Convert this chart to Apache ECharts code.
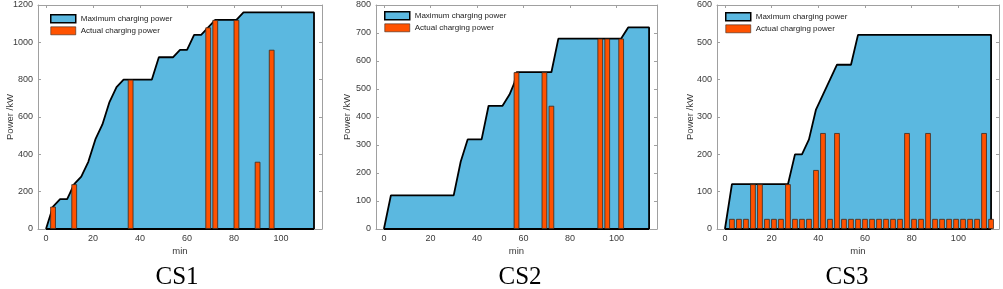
<!DOCTYPE html>
<html>
<head>
<meta charset="utf-8">
<script src="https://cdn.jsdelivr.net/npm/echarts@6/dist/echarts.min.js"></script>
<style>
  html, body { margin: 0; padding: 0; background: #fff; }
  #chart { width: 1003px; height: 289px; }
</style>
</head>
<body>
<div id="chart"></div>
<script>
// charging station data (min / kW)
const stationNames = ['CS1', 'CS2', 'CS3']
const xTicks = [0, 20, 40, 60, 80, 100]

const maxMinCS1 = [0, 3, 6, 9, 12, 15, 18, 21, 24, 27, 30, 33, 45, 48, 54, 57, 60, 63, 66, 69, 72, 81, 84, 114, 114]
const maxPowCS1 = [0, 120, 160, 160, 240, 280, 360, 480, 560, 680, 760, 800, 800, 920, 920, 960, 960, 1040, 1040, 1080, 1120, 1120, 1160, 1160, 0]
const barMinCS1 = [3, 12, 36, 69, 72, 81, 90, 96]
const barPowCS1 = [120, 240, 800, 1080, 1120, 1120, 360, 960]

const maxMinCS2 = [0, 3, 30, 33, 36, 42, 45, 51, 54, 56, 57, 72, 75, 102, 105, 114, 114]
const maxPowCS2 = [0, 120, 120, 240, 320, 320, 440, 440, 480, 520, 560, 560, 680, 680, 720, 720, 0]
const barMinCS2 = [57, 69, 72, 93, 96, 102]
const barPowCS2 = [560, 560, 440, 680, 680, 680]

const maxMinCS3 = [0, 3, 27, 30, 33, 36, 39, 42, 45, 48, 54, 57, 114, 114]
const maxPowCS3 = [0, 120, 120, 200, 200, 240, 320, 360, 400, 440, 440, 520, 520, 0]
const barMinCS3 = [3, 6, 9, 12, 15, 18, 21, 24, 27, 30, 33, 36, 39, 42, 45, 48, 51, 54, 57,
  60, 63, 66, 69, 72, 75, 78, 81, 84, 87, 90, 93, 96, 99, 102, 105, 108, 111, 114]
const barPowCS3 = [27, 27, 27, 120, 120, 27, 27, 27, 120, 27, 27, 27, 158, 257, 27, 257, 27, 27, 27,
  27, 27, 27, 27, 27, 27, 257, 27, 27, 257, 27, 27, 27, 27, 27, 27, 27, 257, 27]

const yMaxes = [1200, 800, 600]
const ySteps = [200, 100, 100]

const stations = [
  { maxMin: maxMinCS1, maxPow: maxPowCS1, barMin: barMinCS1, barPow: barPowCS1 },
  { maxMin: maxMinCS2, maxPow: maxPowCS2, barMin: barMinCS2, barPow: barPowCS2 },
  { maxMin: maxMinCS3, maxPow: maxPowCS3, barMin: barMinCS3, barPow: barPowCS3 },
]

const MAX_NAME = 'Maximum charging power'
const ACT_NAME = 'Actual charging power'
const blue = '#5bb8e0'
const orange = '#ff5200'
const axisGray = '#a0a0a0'
const labelColor = '#3a3a3a'
const X_MIN = -3.4
const X_MAX = 117.4
const BAR_SPAN = 2.4 // minutes

const grids = [
  { left: 38, top: 5, width: 284, height: 224 },
  { left: 376, top: 5, width: 281, height: 224 },
  { left: 717, top: 5, width: 282, height: 224 },
]
const legendPos = [
  { left: 50, top: 14 },
  { left: 384, top: 11 },
  { left: 725, top: 12 },
]
const titleX = [177, 520, 847]
const yNameGap = [23, 24, 22]

const tickFont = { fontFamily: 'Liberation Sans', fontSize: 9, color: labelColor }

const xAxis = []
const yAxis = []
const series = []
const legend = []
const title = []

stations.forEach((st, i) => {
  // bottom + top x axes make the box
  xAxis.push({
    type: 'value', gridIndex: i, min: X_MIN, max: X_MAX,
    name: 'min', nameLocation: 'middle', nameGap: 17, nameMoveOverlap: false,
    nameTextStyle: { fontFamily: 'Liberation Sans', fontSize: 9.5, color: labelColor },
    axisLine: { show: true, onZero: false, lineStyle: { color: axisGray, width: 1 } },
    axisTick: { show: true, inside: true, length: 3, customValues: xTicks, lineStyle: { color: axisGray } },
    axisLabel: { ...tickFont, margin: 5, customValues: xTicks, formatter: (v) => String(v) },
    splitLine: { show: false },
  })
  xAxis.push({
    type: 'value', gridIndex: i, min: X_MIN, max: X_MAX, position: 'top',
    axisLine: { show: true, onZero: false, lineStyle: { color: axisGray, width: 1 } },
    axisTick: { show: true, inside: true, length: 3, customValues: xTicks, lineStyle: { color: axisGray } },
    axisLabel: { show: false },
    splitLine: { show: false },
  })
  yAxis.push({
    type: 'value', gridIndex: i, min: 0, max: yMaxes[i], interval: ySteps[i],
    name: 'Power /kW', nameLocation: 'middle', nameGap: yNameGap[i], nameMoveOverlap: false,
    nameTextStyle: { fontFamily: 'Liberation Sans', fontSize: 9.5, color: labelColor },
    axisLine: { show: true, onZero: false, lineStyle: { color: axisGray, width: 1 } },
    axisTick: { show: true, inside: true, length: 3, lineStyle: { color: axisGray } },
    axisLabel: { ...tickFont, margin: 5, formatter: (v) => String(v) },
    splitLine: { show: false },
  })
  yAxis.push({
    type: 'value', gridIndex: i, min: 0, max: yMaxes[i], interval: ySteps[i], position: 'right',
    axisLine: { show: true, onZero: false, lineStyle: { color: axisGray, width: 1 } },
    axisTick: { show: true, inside: true, length: 3, lineStyle: { color: axisGray } },
    axisLabel: { show: false },
    splitLine: { show: false },
  })

  const xi = i * 2
  const yi = i * 2
  const curve = st.maxMin.map((m, k) => [m, st.maxPow[k]])
  const first = st.maxMin[0]
  const last = st.maxMin[st.maxMin.length - 1]

  series.push({
    name: MAX_NAME, type: 'line', xAxisIndex: xi, yAxisIndex: yi,
    data: curve, symbol: 'none', clip: false, z: 2,
    itemStyle: { color: blue, borderColor: '#000', borderWidth: 1.5 },
    lineStyle: { color: '#000', width: 1.8 },
    areaStyle: { color: blue, opacity: 1 },
  })
  // bottom edge of the max-power patch
  series.push({
    name: 'edge', type: 'line', xAxisIndex: xi, yAxisIndex: yi,
    data: [[first, 0], [last, 0]], symbol: 'none', clip: false, z: 2,
    lineStyle: { color: '#000', width: 1.8 },
  })
  const bw = BAR_SPAN * grids[i].width / (X_MAX - X_MIN)
  series.push({
    name: ACT_NAME, type: 'bar', xAxisIndex: xi, yAxisIndex: yi,
    data: st.barMin.map((m, k) => [m, st.barPow[k]]),
    barWidth: bw, z: 3,
    itemStyle: { color: orange, borderColor: '#3a2a20', borderWidth: 0.8 },
  })

  legend.push({
    ...legendPos[i], orient: 'vertical', padding: 0, itemGap: 3,
    itemWidth: 25, itemHeight: 8, selectedMode: false,
    textStyle: { fontFamily: 'Liberation Sans', fontSize: 8, color: '#222', lineHeight: 8 },
    data: [
      { name: MAX_NAME, icon: 'rect', itemStyle: { color: blue, borderColor: '#000', borderWidth: 1.5 } },
      { name: ACT_NAME, icon: 'rect', itemStyle: { color: orange, borderColor: '#3a2a20', borderWidth: 0.6 } },
    ],
  })

  title.push({
    text: stationNames[i], left: titleX[i], top: 265, textAlign: 'center', padding: 0,
    textStyle: { fontFamily: 'Liberation Serif', fontSize: 25, fontWeight: 'normal', color: '#000' },
  })
})

const chart = echarts.init(document.getElementById('chart'), null, { renderer: 'canvas' })
chart.setOption({
  animation: false,
  backgroundColor: '#fff',
  title,
  legend,
  grid: grids,
  xAxis,
  yAxis,
  series,
})
</script>
</body>
</html>
